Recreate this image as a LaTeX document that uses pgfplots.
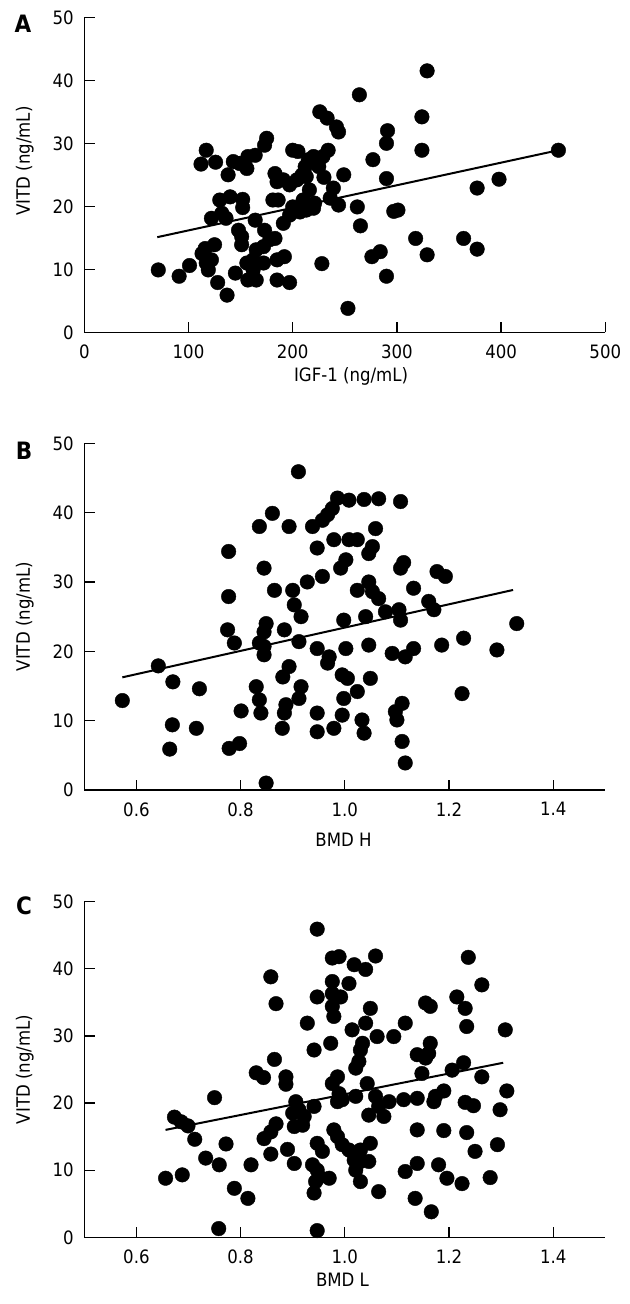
\documentclass[border=0pt]{standalone}
\usepackage{fontspec}
\setmainfont{DejaVu Sans Condensed}
\usepackage{pgfplots}
\pgfplotsset{compat=1.18}
\newcommand\mysize{\fontsize{18.5}{22}\selectfont}
\pgfplotsset{
  myax/.style={
    scale only axis,
    width=521bp,
    axis x line*=bottom, axis y line*=left,
    axis line style={line width=1.3bp,-},
    tick style={line width=1.3bp,black},
    tick align=inside,
    major tick length=10.5bp,
    ymin=0, ymax=50, ytick={0,10,...,50},
    tick label style={font=\mysize},
    /pgf/number format/assume math mode=true,
    yticklabel style={xshift=-7bp},
    xticklabel style={yshift=-9bp},
    every axis y label/.style={at={(axis description cs:-0.114,0.5)},rotate=90,anchor=center,font=\mysize},
    ylabel={VITD (ng/mL)},
    clip=false,
  },
  dots/.style={only marks, mark=*, mark size=7.3bp, black, mark options={fill=black,draw=black}},
  reg/.style={black, line width=2bp, no marks},
}
\begin{document}
\begin{tikzpicture}
\path[use as bounding box] (0,0) rectangle (630bp,-1304bp);
\node[font=\fontsize{24}{28}\selectfont\bfseries] at (23bp,-23.5bp) {A};
\node[font=\fontsize{24}{28}\selectfont\bfseries] at (24bp,-451bp) {B};
\node[font=\fontsize{24}{28}\selectfont\bfseries] at (24bp,-906bp) {C};

% Panel A
\begin{axis}[myax, at={(84.3bp,-332.3bp)}, anchor=south west, height=315bp,
  xmin=0, xmax=500, xtick={0,100,...,500},
  every axis y label/.style={at={(axis description cs:-0.114,0.544)},rotate=90,anchor=center,font=\mysize},
  every axis x label/.style={at={(axis description cs:0.512,-0.139)},anchor=center,font=\mysize},
  xlabel={IGF-1 (ng/mL)}]
\addplot[dots] coordinates {
(71,9.9) (91,8.9) (101,10.6) (113,12.5) (117,11) (122,11.5) (116,13.3) (125,13.9)
(119,9.9) (128,7.9) (137,5.9) (117,28.9) (112,26.7) (126,27) (138,25) (130,21)
(140,21.5) (152,21.1) (152,19.8) (132,18.9) (122,18.1) (136,18.1) (148,16.2)
(151,15.2) (151,13.9) (145,9.4) (156,11) (157,8.3) (165,8.3) (143,27.1) (149,26.8)
(156,26) (157,27.9) (164,28.1) (175,30.8) (173,29.7) (164,17.8) (173,16.2)
(183,25.2) (185,23.9) (181,21) (186,21) (165,13.1) (172,13.6) (178,14.7) (183,14.9)
(162,11.5) (162,9.9) (172,11) (185,11.5) (192,12) (185,8.3) (197,7.9) (191,17.3)
(197,18.6) (200,19.9) (200,28.9) (205,28.7) (191,24.2) (197,23.4) (204,24.2)
(209,25) (212,26.3) (215,27.4) (220,27.9) (225,26.3) (226,35) (210,21) (213,19.4)
(221,20.5) (228,10.9) (329,41.5) (264,37.7) (233,34) (242,32.6) (244,31.8)
(324,34.2) (291,32) (290,30) (324,28.9) (277,27.4) (234,28.9) (229,27.9) (249,25)
(290,24.4) (239,22.9) (236,21.3) (244,20.2) (213,24.7) (220,19.7) (262,19.9)
(265,16.9) (297,19.2) (301,19.4) (318,14.9) (329,12.3) (364,14.9) (377,13.2)
(377,22.9) (398,24.3) (455,28.9) (276,12) (284,12.8) (290,8.9) (253,3.8)
(216,22.6) (230,24.6) (207,19.1)
};
\addplot[reg] coordinates {(70,15.1) (455,28.9)};
\end{axis}

% Panel B
\begin{axis}[myax, at={(84.3bp,-790bp)}, anchor=south west, height=346.7bp,
  xmin=0.5, xmax=1.5, xtick={0.6,0.8,1.0,1.2,1.4},
  xticklabel style={/pgf/number format/.cd,fixed,fixed zerofill,precision=1},
  every axis x label/.style={at={(axis description cs:0.4975,-0.144)},anchor=center,font=\mysize},
  xlabel={BMD H}]
\addplot[dots] coordinates {
(0.573,12.9) (0.642,17.9) (0.670,15.6) (0.669,9.4) (0.664,5.9) (0.715,8.9)
(0.721,14.6) (0.777,27.9) (0.775,23.1) (0.788,21.2) (0.777,34.4) (0.778,6.0)
(0.798,6.7) (0.801,11.4) (0.836,38) (0.861,39.9) (0.845,32) (0.865,28.8)
(0.849,24) (0.845,22.8) (0.836,21.2) (0.845,20.7) (0.845,19.5) (0.830,14.9)
(0.836,13) (0.839,11.1) (0.849,1.0) (0.893,38) (0.911,45.9) (0.938,38)
(0.900,28.8) (0.903,26.7) (0.916,25) (0.884,23.1) (0.912,21.4) (0.881,16.3)
(0.893,17.8) (0.887,12.3) (0.884,11.1) (0.880,8.9) (0.916,14.9) (0.912,13.2)
(0.928,30) (0.947,34.9) (0.947,20.4) (0.947,11.1) (0.947,8.4)
(0.986,42.1) (1.008,41.8) (1.037,41.9) (1.065,42) (1.107,41.6) (0.976,40.6)
(0.967,39.7) (0.957,38.9) (1.059,37.7) (0.979,36.1) (1.008,36.1) (1.024,36.1)
(1.053,35.1) (1.046,34.1) (1.002,33.2) (0.992,32) (1.113,32.8) (1.107,32)
(1.177,31.5) (1.193,30.8) (0.957,30.8) (1.046,30) (1.024,28.8) (1.053,28.6)
(1.065,27.6) (1.132,29.1) (1.161,27.2) (1.171,26) (0.998,24.5) (1.040,25)
(1.078,25.7) (1.104,26) (1.107,24.5) (1.330,24) (1.228,21.9) (1.292,20.2)
(1.186,20.9) (1.132,20.4) (1.116,19.2) (1.091,19.7) (1.046,20.9) (1.002,20.4)
(0.970,19.2) (0.967,18.3) (0.995,16.6) (1.005,16.1) (1.049,16.1) (1.024,14.2)
(0.998,13.2) (0.995,10.8) (0.979,8.9) (1.033,10.1) (1.037,8.2) (1.110,12.5)
(1.097,11.3) (1.100,10.1) (1.110,7.0) (1.116,3.9) (1.225,13.9)
};
\addplot[reg] coordinates {(0.573,16.25) (1.323,28.85)};
\end{axis}

% Panel C
\begin{axis}[myax, at={(84.3bp,-1237.3bp)}, anchor=south west, height=335.7bp,
  xmin=0.5, xmax=1.5, xtick={0.6,0.8,1.0,1.2,1.4},
  xticklabel style={/pgf/number format/.cd,fixed,fixed zerofill,precision=1},
  every axis x label/.style={at={(axis description cs:0.4956,-0.126)},anchor=center,font=\mysize},
  xlabel={BMD L}]
\addplot[dots] coordinates {
(0.656,8.8) (0.688,9.3) (0.673,17.9) (0.686,17.2) (0.699,16.6) (0.712,14.6)
(0.733,11.8) (0.750,20.8) (0.759,10.8) (0.772,13.9) (0.788,7.3) (0.814,5.8)
(0.820,10.8) (0.758,1.3) (0.830,24.5) (0.844,23.8) (0.858,38.8) (0.868,34.8)
(0.865,26.5) (0.887,23.9) (0.887,22.8) (0.845,14.7) (0.858,15.7) (0.868,16.9)
(0.858,12.4) (0.890,13.1) (0.903,11) (0.906,20.2) (0.900,18.5) (0.912,19)
(0.903,16.5) (0.919,16.7) (0.922,18) (0.928,31.9) (0.941,27.9) (0.947,35.8)
(0.947,45.9) (0.941,19.5) (0.941,6.6) (0.947,1.0) (0.947,14) (0.938,10.8)
(0.976,41.6) (0.989,41.8) (1.018,40.6) (1.040,39.9) (1.059,41.9) (1.237,41.7)
(1.263,37.6) (0.976,38.1) (1.008,37.8) (0.976,36.3) (0.992,35.8) (1.215,35.8)
(1.231,34.1) (1.155,34.9) (1.164,34.4) (0.976,34.4) (0.979,32.9) (1.049,34.1)
(1.040,31.9) (1.116,31.9) (1.234,31.4) (1.308,30.9) (1.014,30.9) (1.062,29.9)
(1.094,29.9) (1.034,28.9) (1.030,27.9) (0.973,28.9) (1.164,28.9) (1.161,27.4)
(1.139,27.2) (1.155,26.7) (1.027,26.2) (1.021,25.2) (1.228,26) (1.206,24.9)
(1.148,24.4) (1.263,23.9) (0.986,23.9) (0.976,22.9) (1.043,22.9) (1.311,21.8)
(1.190,21.8) (1.174,21) (1.171,20.2) (0.989,21.4) (0.995,20.5) (1.021,21)
(0.986,20.2) (1.059,21) (1.065,19.5) (1.085,20.2) (1.113,20.5) (1.139,20.7)
(1.231,20.1) (1.247,19.6) (1.298,19) (1.046,18.2) (1.075,18) (1.139,16)
(1.190,15.9) (1.234,15.6) (1.250,12.8) (1.293,13.8) (0.979,16) (0.986,15)
(0.995,13.8) (1.008,13) (1.030,13) (1.049,14) (0.957,12.8) (0.947,10)
(1.018,11.5) (1.030,11.3) (1.046,11.3) (1.021,10) (1.030,8.3) (0.951,9)
(0.970,8.8) (0.944,8.3) (1.065,6.8) (1.116,9.8) (1.139,11) (1.180,10.8)
(1.196,8.8) (1.225,8) (1.279,8.9) (1.135,5.8) (1.166,3.8)
};
\addplot[reg] coordinates {(0.656,16.0) (1.304,26.0)};
\end{axis}
\end{tikzpicture}
\end{document}
